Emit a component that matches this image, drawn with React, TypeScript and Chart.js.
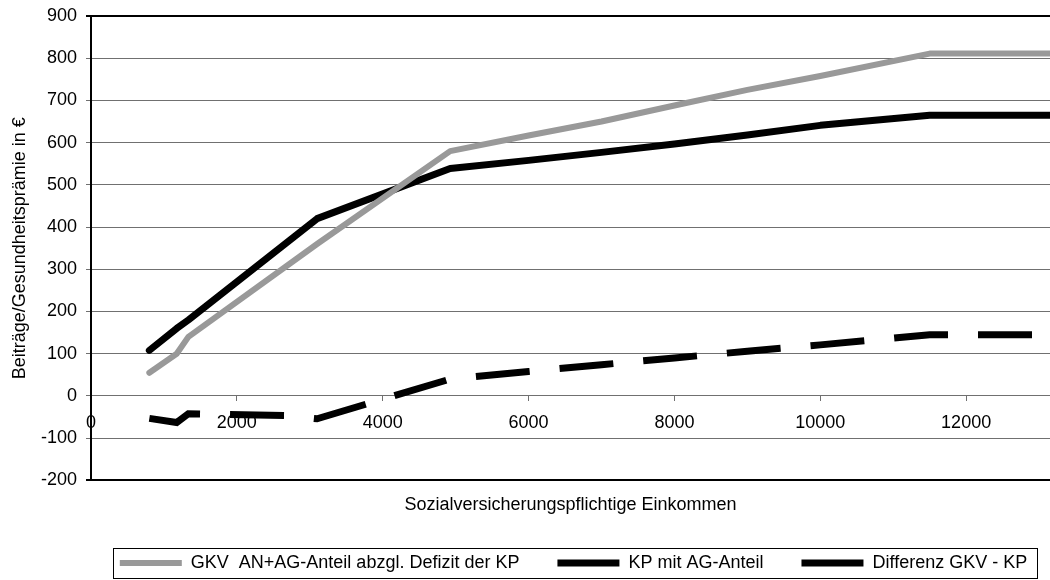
import React, { useEffect, useRef } from "react";
import { Chart, registerables } from "chart.js";

Chart.register(...registerables);

// Income levels (x) and values
const incomes = [800, 1175, 1335, 3100, 4925, 6000, 7000, 8000, 9000, 10000, 11500, 13150];
const gkvValues = [55, 100, 140, 360, 580, 617, 650, 688, 725, 758, 811, 811];
const kpValues = [108, 160, 180, 420, 539, 558, 577, 597, 618, 641, 665, 665];
const diffIncomes = [800, 1175, 1335, 2650, 3100, 4925, 6000, 7000, 8000, 9000, 10000, 11500, 13150];
const diffValues = [-53, -63, -42, -46, -54, 40, 58, 74, 90, 106, 121, 145, 145];

const seriesLabels = [
  "GKV  AN+AG-Anteil abzgl. Defizit der KP",
  "KP mit AG-Anteil",
  "Differenz GKV - KP",
];
const xTitle = "Sozialversicherungspflichtige Einkommen";
const yTitle = "Beiträge/Gesundheitsprämie in €";
const xTickValues = [0, 2000, 4000, 6000, 8000, 10000, 12000];
const xMin = 0;
const xMax = 13150;
const yMin = -200;
const yMax = 900;
const yStep = 100;

const FONT = "'Liberation Sans', Arial, sans-serif";
const GRID = "#707070";

// centre the legend row under the plot area, and frame it
const legendBox = {
  id: "legendBox",
  afterLayout(chart: any) {
    const lg = chart.legend;
    const ca = chart.chartArea;
    if (!lg || !ca) return;
    const shift = (ca.left + ca.right) / 2 - (lg.left + lg.right) / 2 + 3;
    lg.left += shift;
    lg.right += shift;
  },
  afterDraw(chart: any) {
    const lg = chart.legend;
    if (!lg || !lg.legendHitBoxes || !lg.legendHitBoxes.length) return;
    const hb = lg.legendHitBoxes;
    const l = Math.min(...hb.map((h: any) => h.left)) - 7;
    const r = Math.max(...hb.map((h: any) => h.left + h.width)) + 10;
    const cy = hb[0].top + hb[0].height / 2;
    const ctx = chart.ctx;
    ctx.save();
    ctx.strokeStyle = "#000";
    ctx.lineWidth = 1;
    ctx.strokeRect(Math.round(l) + 0.5, Math.round(cy - 15) + 0.5, Math.round(r - l), 30);
    ctx.restore();
  },
};

export default function App() {
  const ref = useRef<HTMLCanvasElement | null>(null);
  useEffect(() => {
    if (!ref.current) return;
    const toPts = (xs: number[], ys: number[]) => xs.map((x, i) => ({ x, y: ys[i] }));
    const chart = new Chart(ref.current, {
      type: "line",
      data: {
        datasets: [
          {
            label: seriesLabels[0],
            data: toPts(incomes, gkvValues),
            borderColor: "#999999",
            backgroundColor: "#999999",
            borderWidth: 6,
            borderCapStyle: "round",
            borderJoinStyle: "round",
            pointRadius: 0,
            tension: 0,
          },
          {
            label: seriesLabels[1],
            data: toPts(incomes, kpValues),
            borderColor: "#000000",
            backgroundColor: "#000000",
            borderWidth: 7,
            borderCapStyle: "round",
            borderJoinStyle: "round",
            pointRadius: 0,
            tension: 0,
          },
          {
            label: seriesLabels[2],
            data: toPts(diffIncomes, diffValues),
            borderColor: "#000000",
            backgroundColor: "#000000",
            borderWidth: 7,
            borderDash: [54, 30],
            borderCapStyle: "butt",
            borderJoinStyle: "miter",
            pointRadius: 0,
            tension: 0,
          },
        ],
      },
      options: {
        responsive: false,
        animation: false,
        layout: { padding: { top: 16, right: 0, bottom: -2, left: 0 } },
        plugins: {
          tooltip: { enabled: false },
          legend: {
            position: "bottom",
            labels: {
              usePointStyle: true,
              pointStyle: "line",
              pointStyleWidth: 62,
              boxHeight: 18,
              padding: 38,
              color: "#000",
              font: { family: FONT, size: 18 },
            },
          },
        },
        scales: {
          x: {
            type: "linear",
            min: xMin,
            max: xMax,
            position: { y: 0 },
            afterBuildTicks: (s: any) => {
              s.ticks = xTickValues.map((v) => ({ value: v }));
            },
            ticks: {
              autoSkip: false,
              color: "#000",
              font: { family: FONT, size: 18 },
              padding: 11,
              maxRotation: 0,
              callback: (v: any) => String(v),
            },
            grid: { drawOnChartArea: false, drawTicks: true, tickLength: 5, color: GRID },
            border: { display: true, color: GRID, width: 1 },
          },
          x2: {
            type: "linear",
            position: "bottom",
            min: xMin,
            max: xMax,
            ticks: { display: false },
            grid: { display: false, drawTicks: false },
            border: { display: false },
            title: {
              display: true,
              text: xTitle,
              color: "#000",
              font: { family: FONT, size: 18 },
              padding: { top: 14, bottom: 0 },
            },
          },
          y: {
            type: "linear",
            min: yMin,
            max: yMax,
            afterFit: (s: any) => {
              s.width = 91;
              s.paddingTop = 0;
              s.paddingBottom = 0;
            },
            ticks: {
              stepSize: yStep,
              color: "#000",
              font: { family: FONT, size: 18 },
              padding: 9,
              callback: (v: any) => String(v),
            },
            grid: {
              color: (c: any) =>
                c.tick && (c.tick.value === yMax || c.tick.value === yMin) ? "#000" : GRID,
              lineWidth: (c: any) =>
                c.tick && (c.tick.value === yMax || c.tick.value === yMin) ? 2 : 1,
              tickLength: 5,
            },
            border: { display: true, color: "#000", width: 2 },
            title: {
              display: true,
              text: yTitle,
              color: "#000",
              font: { family: FONT, size: 18 },
              padding: { top: 9, bottom: 0 },
            },
          },
        },
      },
      plugins: [legendBox],
    } as any);
    return () => chart.destroy();
  }, []);
  return (
    <div style={{ position: "absolute", left: 0, top: 0, width: 1050, height: 580, background: "#fff" }}>
      <canvas ref={ref} width={1050} height={580} style={{ display: "block" }} />
    </div>
  );
}
